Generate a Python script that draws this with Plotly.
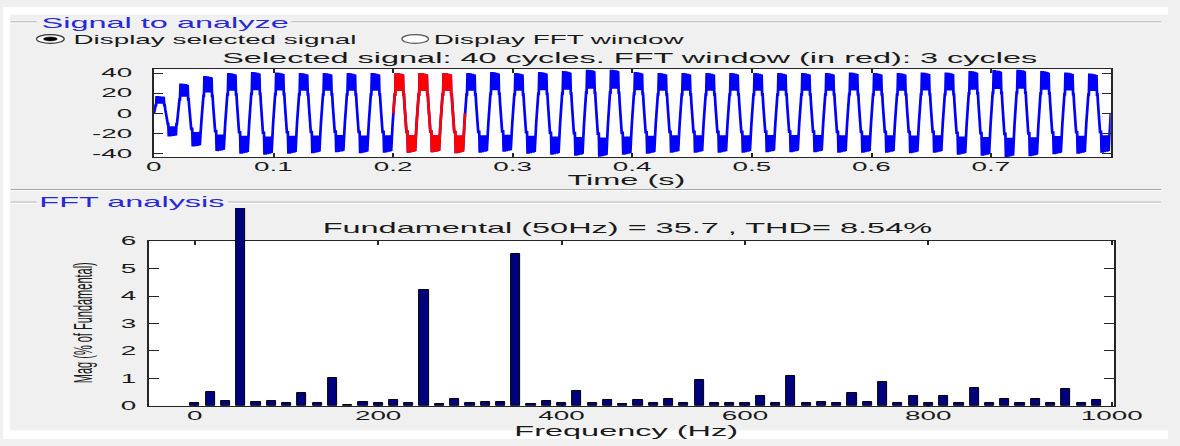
import plotly.graph_objects as go

W, H = 1180, 446

# ---------------- data ----------------
# one 50 Hz cycle of the stepped waveform, 48 samples, as fraction of the cycle peak
cycle_shape = [0.00, 0.24, 0.47, 0.47, 0.47,
               1.00, 0.57, 1.00, 0.56, 0.99, 0.57, 0.99, 0.56, 0.98, 0.57, 0.98,
               0.56, 0.97, 0.56, 0.96,
               0.47, 0.47, 0.24, 0.00,
               -0.00, -0.24, -0.47, -0.47, -0.47,
               -1.00, -0.57, -1.00, -0.56, -0.99, -0.57, -0.99, -0.56, -0.98, -0.57, -0.98,
               -0.56, -0.97, -0.56, -0.96,
               -0.47, -0.47, -0.24]
# positive / negative peak of each of the 40 cycles
pos_peak = [17, 29.5, 37, 40, 41, 40.5, 40, 40, 40, 40,
            40, 40, 40, 40, 41, 40, 41, 42, 43.5, 43.5,
            41, 40, 40, 40, 40, 40, 40, 40, 40, 40.5,
            40, 40, 40.5, 40.5, 42, 43, 43.5, 42, 40.5, 39.5]
neg_peak = [23, 33, 37.5, 40, 41, 40, 39.5, 38.7, 39.5, 39,
            39, 38.6, 39.5, 39, 38, 40, 41, 42, 43, 41,
            40, 39, 39, 39, 39, 38.5, 38.5, 38.5, 39, 39,
            39, 39.5, 39, 41, 42, 43.5, 42.5, 40.5, 40, 39]
f0 = 50.0
fft_window_cycles = (10, 13)   # cycles shown in red

fft_freq = [0, 16.67, 33.33, 50, 66.67, 83.33, 100, 116.67, 133.33, 150,
            166.67, 183.33, 200, 216.67, 233.33, 250, 266.67, 283.33, 300, 316.67,
            333.33, 350, 366.67, 383.33, 400, 416.67, 433.33, 450, 466.67, 483.33,
            500, 516.67, 533.33, 550, 566.67, 583.33, 600, 616.67, 633.33, 650,
            666.67, 683.33, 700, 716.67, 733.33, 750, 766.67, 783.33, 800, 816.67,
            833.33, 850, 866.67, 883.33, 900, 916.67, 933.33, 950, 966.67, 983.33]
fft_mag = [0.10, 0.50, 0.18, 100, 0.15, 0.18, 0.10, 0.47, 0.10, 1.00,
           0.04, 0.15, 0.10, 0.22, 0.12, 4.22, 0.06, 0.26, 0.10, 0.15,
           0.13, 5.54, 0.06, 0.18, 0.10, 0.53, 0.12, 0.20, 0.06, 0.20,
           0.10, 0.24, 0.12, 0.94, 0.10, 0.12, 0.10, 0.35, 0.12, 1.07,
           0.12, 0.15, 0.10, 0.47, 0.15, 0.88, 0.12, 0.35, 0.10, 0.35,
           0.12, 0.65, 0.12, 0.26, 0.10, 0.26, 0.12, 0.61, 0.12, 0.20]

time_ticks = [0, 0.1, 0.2, 0.3, 0.4, 0.5, 0.6, 0.7]
time_ticktext = ["0", "0.1", "0.2", "0.3", "0.4", "0.5", "0.6", "0.7"]
sig_ticks = [-40, -20, 0, 20, 40]
sig_ticktext = ["-40", "-20", "0", "20", "40"]
freq_ticks = [0, 200, 400, 600, 800, 1000]
mag_ticks = [0, 1, 2, 3, 4, 5, 6]

# ---------------- build the waveform from the read values ----------------
n = len(cycle_shape)
dt = 1.0 / f0 / n
t_all, v_all = [], []
for k in range(len(pos_peak)):
    for j, s in enumerate(cycle_shape):
        t_all.append((k * n + j) * dt)
        v_all.append(s * (pos_peak[k] if s >= 0 else neg_peak[k]))
t_all.append(len(pos_peak) * n * dt)
v_all.append(0.0)
i0, i1 = fft_window_cycles[0] * n, fft_window_cycles[1] * n + 1
t_red, v_red = t_all[i0:i1], v_all[i0:i1]


def fx(px):
    return px / W


def fy(py):
    return 1 - py / H


FONT = "Liberation Sans, Arial, sans-serif"
BG = "#F0F0F0"
AX = "#262626"
TXT = "#1a1a1a"
BLUE_T = "#2828D8"

fig = go.Figure()
fig.add_trace(go.Scatter(x=t_all, y=v_all, mode="lines",
                         line=dict(color="#0000FF", width=2.7),
                         xaxis="x", yaxis="y", showlegend=False, hoverinfo="skip"))
fig.add_trace(go.Scatter(x=t_red, y=v_red, mode="lines",
                         line=dict(color="#FF0000", width=2.7),
                         xaxis="x", yaxis="y", showlegend=False, hoverinfo="skip"))
# invisible helper so the framed FFT axes (x2/y2) exist as a subplot
fig.add_trace(go.Scatter(x=[0], y=[0], mode="markers", marker=dict(opacity=0),
                         xaxis="x2", yaxis="y2", showlegend=False, hoverinfo="skip"))
fig.add_trace(go.Bar(x=fft_freq, y=fft_mag, width=10,
                     marker=dict(color="#00007F", line=dict(color="#000000", width=1)),
                     xaxis="x2", yaxis="y3", showlegend=False, hoverinfo="skip"))

tick_font = dict(family=FONT, size=12, color=TXT)
axis_common = dict(showgrid=False, zeroline=False, showline=True, linecolor=AX,
                   ticks="inside", mirror="ticks", tickcolor=AX, tickfont=tick_font,
                   tickmode="array", fixedrange=True)

# pixel geometry of the two plot frames
top_x0, top_x1, top_y0, top_y1 = 153, 1122, 64.5, 155
bot_x0, bot_x1, bot_y0, bot_y1 = 148, 1125, 241.7, 411.7
bar_top = 207.5
mag_max = 6.0
bar_range_top = mag_max * (bot_y1 - bar_top) / (bot_y1 - bot_y0)

fig.update_layout(
    width=W, height=H, autosize=False,
    margin=dict(l=0, r=0, t=0, b=0, pad=0),
    paper_bgcolor=BG, plot_bgcolor="rgba(0,0,0,0)",
    bargap=0,
    xaxis=dict(axis_common, domain=[fx(top_x0), fx(top_x1)], anchor="y",
               range=[0, 0.8], tickvals=time_ticks, ticktext=time_ticktext,
               ticklen=4, tickwidth=2, linewidth=1, ticklabelstandoff=-2),
    yaxis=dict(axis_common, domain=[fy(top_y1), fy(top_y0)], anchor="x",
               range=[-43.5, 43.5], tickvals=sig_ticks, ticktext=sig_ticktext,
               ticklen=9, tickwidth=1, linewidth=2, ticklabelstandoff=17),
    xaxis2=dict(axis_common, domain=[fx(bot_x0), fx(bot_x1)], anchor="y2",
                range=[-50, 1002], tickvals=freq_ticks,
                ticklen=4, tickwidth=2, linewidth=1, ticklabelstandoff=-1),
    yaxis2=dict(axis_common, domain=[fy(bot_y1), fy(bot_y0)], anchor="x2",
                range=[0, mag_max], tickvals=mag_ticks,
                ticklen=10, tickwidth=1, linewidth=2, ticklabelstandoff=8),
    yaxis3=dict(domain=[fy(bot_y1), fy(bar_top)], anchor="x2",
                range=[0, bar_range_top], visible=False, fixedrange=True),
)

shapes = []
# white plot areas
shapes.append(dict(type="rect", xref="paper", yref="paper", layer="below",
                   x0=fx(top_x0), x1=fx(top_x1), y0=fy(top_y1), y1=fy(top_y0),
                   fillcolor="white", line=dict(width=0)))
shapes.append(dict(type="rect", xref="paper", yref="paper", layer="below",
                   x0=fx(bot_x0), x1=fx(bot_x1), y0=fy(bot_y1), y1=fy(bot_y0),
                   fillcolor="white", line=dict(width=0)))
# white window edges
for (a, b, c, d) in [(0, W, 0, 8), (0, 7, 0, H), (0, W, 437, H)]:
    shapes.append(dict(type="rect", xref="paper", yref="paper", layer="below",
                       x0=fx(a), x1=fx(b), y0=fy(d), y1=fy(c),
                       fillcolor="white", line=dict(width=0)))
# panel border lines
for (a, b, yy) in [(8, 34, 15.5), (292, 1173, 15.5), (8, 1173, 188.5),
                   (8, 34, 201.5), (228, 1173, 201.5)]:
    shapes.append(dict(type="line", xref="paper", yref="paper", layer="below",
                       x0=fx(a), x1=fx(b), y0=fy(yy), y1=fy(yy),
                       line=dict(color="#A0A0A0", width=1)))
    shapes.append(dict(type="line", xref="paper", yref="paper", layer="below",
                       x0=fx(a), x1=fx(b), y0=fy(yy + 1), y1=fy(yy + 1),
                       line=dict(color="#FFFFFF", width=1)))
# radio buttons
shapes.append(dict(type="circle", xref="paper", yref="paper",
                   x0=fx(34), x1=fx(62), y0=fy(37.5), y1=fy(28.5),
                   fillcolor="white", line=dict(color="#333333", width=1.2)))
shapes.append(dict(type="circle", xref="paper", yref="paper",
                   x0=fx(41), x1=fx(55), y0=fy(35), y1=fy(31),
                   fillcolor="#000000", line=dict(color="#000000", width=0.5)))
shapes.append(dict(type="circle", xref="paper", yref="paper",
                   x0=fx(404), x1=fx(431), y0=fy(37.5), y1=fy(28.5),
                   fillcolor="white", line=dict(color="#555555", width=1.2)))
fig.update_layout(shapes=shapes)


def ann(text, cx, cy, size=14, color=TXT, angle=0):
    return dict(text=text, x=fx(cx), y=fy(cy), xref="paper", yref="paper",
                xanchor="center", yanchor="middle", showarrow=False,
                textangle=angle, font=dict(family=FONT, size=size, color=color))


fig.update_layout(annotations=[
    ann("Signal to analyze", 165, 17, 14, BLUE_T),
    ann("Display selected signal", 214.5, 33.8, 12),
    ann("Display FFT window", 563, 33.8, 12),
    ann("Selected signal: 40 cycles. FFT window (in red): 3 cycles", 635, 52.5, 14),
    ann("Time (s)", 632, 179, 14),
    ann("FFT analysis", 130.5, 201, 14, BLUE_T),
    ann("Fundamental (50Hz) = 35.7 , THD= 8.54%", 632.5, 228, 14),
    ann("Frequency (Hz)", 631.5, 437.5, 14),
    ann("Mag (% of Fundamental)", 81, 325.5, 11, angle=-90),
])

# the screenshot is horizontally stretched: widen glyphs the same way
post = r"""
var gd = document.getElementById('{plot_id}');
var S = 2.32;
function stretchAll(){
  gd.querySelectorAll('text').forEach(function(t){
    if (t.getAttribute('data-st') === '1') return;
    var bb; try { bb = t.getBBox(); } catch(e) { return; }
    if (!bb || bb.width === 0) return;
    var m = t.getCTM();
    var rotated = (m && Math.abs(m.b) > Math.abs(m.a));
    if (rotated) {
      var root = t.ownerSVGElement;
      var rr = root.getBoundingClientRect();
      var r = t.getBoundingClientRect();
      var cx = r.left + r.width / 2 - rr.left;
      var cy = r.top + r.height / 2 - rr.top;
      var cs = window.getComputedStyle(t);
      var c = document.createElementNS('http://www.w3.org/2000/svg', 'text');
      c.textContent = t.textContent;
      c.setAttribute('text-anchor', 'middle');
      c.setAttribute('dominant-baseline', 'central');
      c.setAttribute('transform', 'translate(' + cx + ',' + cy + ') scale(' + S + ',1) rotate(-90)');
      c.style.fontFamily = cs.fontFamily;
      c.style.fontSize = cs.fontSize;
      c.style.fill = cs.fill;
      c.setAttribute('data-st', '1');
      root.appendChild(c);
      t.style.opacity = '0';
    } else {
      var tr = t.getAttribute('transform') || '';
      var anc = t.getAttribute('text-anchor') || window.getComputedStyle(t).textAnchor || 'start';
      var ax = anc === 'middle' ? bb.x + bb.width / 2 : (anc === 'end' ? bb.x + bb.width : bb.x);
      t.setAttribute('transform', tr + ' translate(' + ax + ',0) scale(' + S + ',1) translate(' + (-ax) + ',0)');
    }
    t.setAttribute('data-st', '1');
  });
}
stretchAll();
setTimeout(stretchAll, 30);
setTimeout(stretchAll, 200);
"""

fig.write_html("out.html", config={"displayModeBar": False}, post_script=post)
